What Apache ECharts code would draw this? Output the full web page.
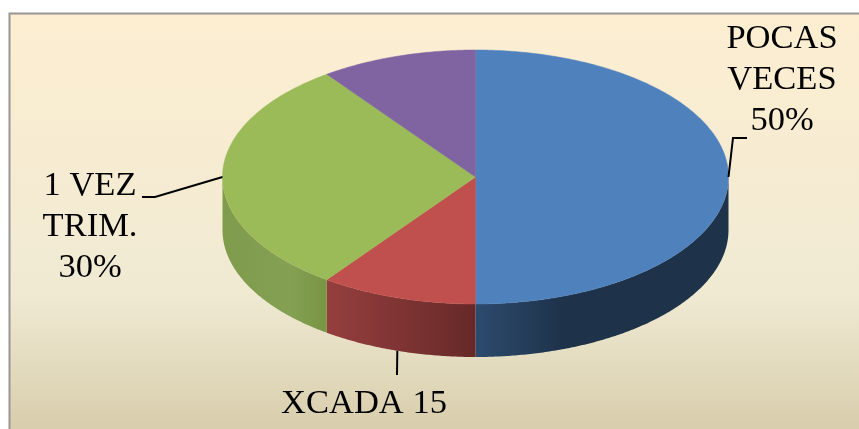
<!DOCTYPE html>
<html><head><meta charset="utf-8">
<style>html,body{margin:0;padding:0;background:#fff}#c{width:859px;height:429px}</style>
<script src="https://cdn.jsdelivr.net/npm/echarts@6/dist/echarts.min.js"></script>
</head><body><div id="c"></div>
<script>
const categories = ['POCAS VECES', 'XCADA 15', '1 VEZ TRIM.', 'OTRO'];
const values = [50, 10, 30, 10];
const labelLines = [['POCAS', 'VECES', '50%'], ['XCADA 15'], ['1 VEZ', 'TRIM.', '30%'], []];
const topColors = ['#4f81bd', '#c0504d', '#9bbb59', '#8064a2'];
// wall gradients, listed left to right across each visible wall
const wallStops = [
  [[0, '#2c4b6e'], [0.35, '#1e3249'], [1, '#1e3249']],
  [[0, '#953f3e'], [1, '#662928']],
  [[0, '#7f9b4c'], [0.65, '#84a052'], [1, '#789444']],
  [[0, '#5f4a7a'], [1, '#5f4a7a']]
];
// layout
const CX = 475.5, CY = 177, RX = 253, RY = 127, DEPTH = 53;
const FS = 34.5, LH = 41, BASE = 29;
const leaders = [
  {elbow: [733, 138], end: [747, 138], text: [782, 50]},
  {elbow: [397, 375], end: [397, 375], text: [364, 415]},
  {elbow: [155, 197], end: [142, 197], text: [90, 197]},
  null
];
const total = values.reduce((a, b) => a + b, 0);
const pt = (deg, dy) => {
  const r = deg * Math.PI / 180;
  return [CX + RX * Math.sin(r), CY - RY * Math.cos(r) + (dy || 0)];
};
const arc = (a, b, dy) => {
  const out = [], n = Math.max(2, Math.ceil(Math.abs(b - a) * 2));
  for (let i = 0; i <= n; i++) out.push(pt(a + (b - a) * i / n, dy));
  return out;
};
let acc = 0;
const spans = values.map(v => { const s = acc / total * 360; acc += v; return [s, acc / total * 360]; });

const wallSeries = {
  type: 'custom', coordinateSystem: 'none', silent: true, z: 2,
  data: values.map((v, i) => i),
  renderItem(p, api) {
    const i = api.value(0);
    const a = Math.max(spans[i][0], 90), b = Math.min(spans[i][1], 270);
    if (b <= a) return {type: 'group', children: []};
    const stops = wallStops[i].map(s => ({offset: s[0], color: s[1]}));
    const grad = {type: 'linear', x: 0, y: 0, x2: 1, y2: 0, colorStops: stops};
    return {type: 'polygon', shape: {points: arc(a, b, 0).concat(arc(b, a, DEPTH))}, style: {fill: grad}};
  }
};
const topSeries = {
  type: 'custom', coordinateSystem: 'none', silent: true, z: 3,
  data: values.map((v, i) => i),
  renderItem(p, api) {
    const i = api.value(0);
    return {type: 'polygon',
      shape: {points: [[CX, CY]].concat(arc(spans[i][0], spans[i][1], 0))},
      style: {fill: topColors[i], stroke: topColors[i], lineWidth: 0.5}};
  }
};
const labelSeries = {
  type: 'custom', coordinateSystem: 'none', silent: true, z: 4,
  data: values.map((v, i) => i),
  renderItem(p, api) {
    const i = api.value(0), L = leaders[i];
    if (!L) return {type: 'group', children: []};
    const mid = (spans[i][0] + spans[i][1]) / 2;
    const wallFront = mid > 90 && mid < 270;
    const s = pt(mid, wallFront ? DEPTH : 0);
    const children = [{type: 'polyline', shape: {points: [s, L.elbow, L.end]},
      style: {stroke: '#000', lineWidth: 2, fill: 'none'}}];
    labelLines[i].forEach((t, k) => children.push({type: 'text', style: {
      text: t, x: L.text[0], y: L.text[1] - BASE + k * LH, align: 'center', verticalAlign: 'top',
      fontFamily: '"Liberation Serif"', fontSize: FS, fill: '#000'}}));
    return {type: 'group', children};
  }
};
const chart = echarts.init(document.getElementById('c'), null, {renderer: 'canvas'});
chart.setOption({
  animation: false,
  graphic: [{type: 'rect', z: 0, silent: true, shape: {x: 9.5, y: 13.5, width: 860, height: 430},
    style: {stroke: '#969696', lineWidth: 2, fill: {type: 'linear', x: 0, y: 0, x2: 0, y2: 1, colorStops: [
      {offset: 0, color: '#fdeed1'}, {offset: 0.65, color: '#f0ead3'}, {offset: 0.95, color: '#d9cfae'}, {offset: 1, color: '#d9cfae'}]}}}],
  series: [wallSeries, topSeries, labelSeries]
});
</script></body></html>
